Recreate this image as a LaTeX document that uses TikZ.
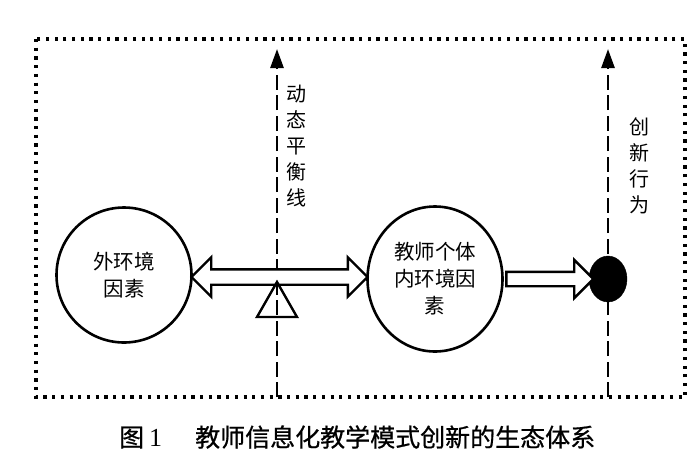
\documentclass[tikz,border=0pt]{standalone}
\usepackage{fontspec}
\setmainfont{Liberation Serif}
\newfontfamily\cjk{Noto Sans CJK SC}
\newfontfamily\cjkcap[FakeBold=0.7]{Noto Sans CJK SC}
\usetikzlibrary{arrows.meta,positioning,shapes.geometric,shapes.arrows}

\begin{document}
\begin{tikzpicture}[x=1pt,y=-1pt,
 factor/.style={draw,line width=2.6pt,inner sep=0pt,align=center,
   font=\fontsize{20.5}{27}\selectfont\cjk},
 axis/.style={line width=2.6pt,dash pattern=on 15pt off 5.5pt,
   -{Triangle[length=19pt,width=13pt]}},
 flow/.style={draw,line width=2.4pt,fill=white,inner xsep=0pt,line join=miter},
 vlabel/.style={align=center,inner sep=0pt,font=\fontsize{20}{26}\selectfont\cjk}]
 \useasboundingbox (0,0) rectangle (700,464);
 % frame
 \draw[line width=3.2pt,dash pattern=on 3.2pt off 5.5pt] (36,39) rectangle (685,397);
 % two vertical axes
 \coordinate (balance base) at (277,397);
 \coordinate (balance top) at (277,49);
 \coordinate (act base) at (608,397);
 \coordinate (act top) at (608,49);
 \draw[axis] (balance base)--(balance top);
 \draw[axis] (act base)--(act top);
 % factors
 \node[factor,circle,minimum size=135pt] (outer) at (124,275) {外环境\\因素};
 \node[factor,ellipse,minimum width=135pt,minimum height=145pt] (inner) at (435,279)
   {教师个体\\内环境因\\素};
 \node[draw,fill=black,ellipse,minimum width=38pt,minimum height=46pt,inner sep=0pt]
   (act) at (608,279) {};
 % arrows between them
 \path (outer.east)--(inner.west) node[midway,flow,double arrow,
   double arrow head extend=12pt,inner ysep=6.5pt,minimum height=176pt] (balance) {};
 \path (inner.east)--(act.west) node[midway,flow,single arrow,
   single arrow head extend=12pt,inner ysep=6pt,minimum height=87pt] (push) {};
 \coordinate (pivot) at (277,282);
 \draw[line width=2.4pt,line join=miter] (pivot)--++(-20,35)--++(40,0)--cycle;
 % labels
 \node[vlabel] (balance label) at (296,146) {动\\态\\平\\衡\\线};
 \node[vlabel] (act label) at (639,166) {创\\新\\行\\为};
 \node[anchor=west,inner sep=0pt,font=\fontsize{25}{25}\selectfont\cjkcap] (caption) at (119,437)
   {图\hspace{5pt}{\rmfamily\fontsize{26}{26}\selectfont 1}\hspace{33pt}教师信息化教学模式创新的生态体系};
\end{tikzpicture}
\end{document}
